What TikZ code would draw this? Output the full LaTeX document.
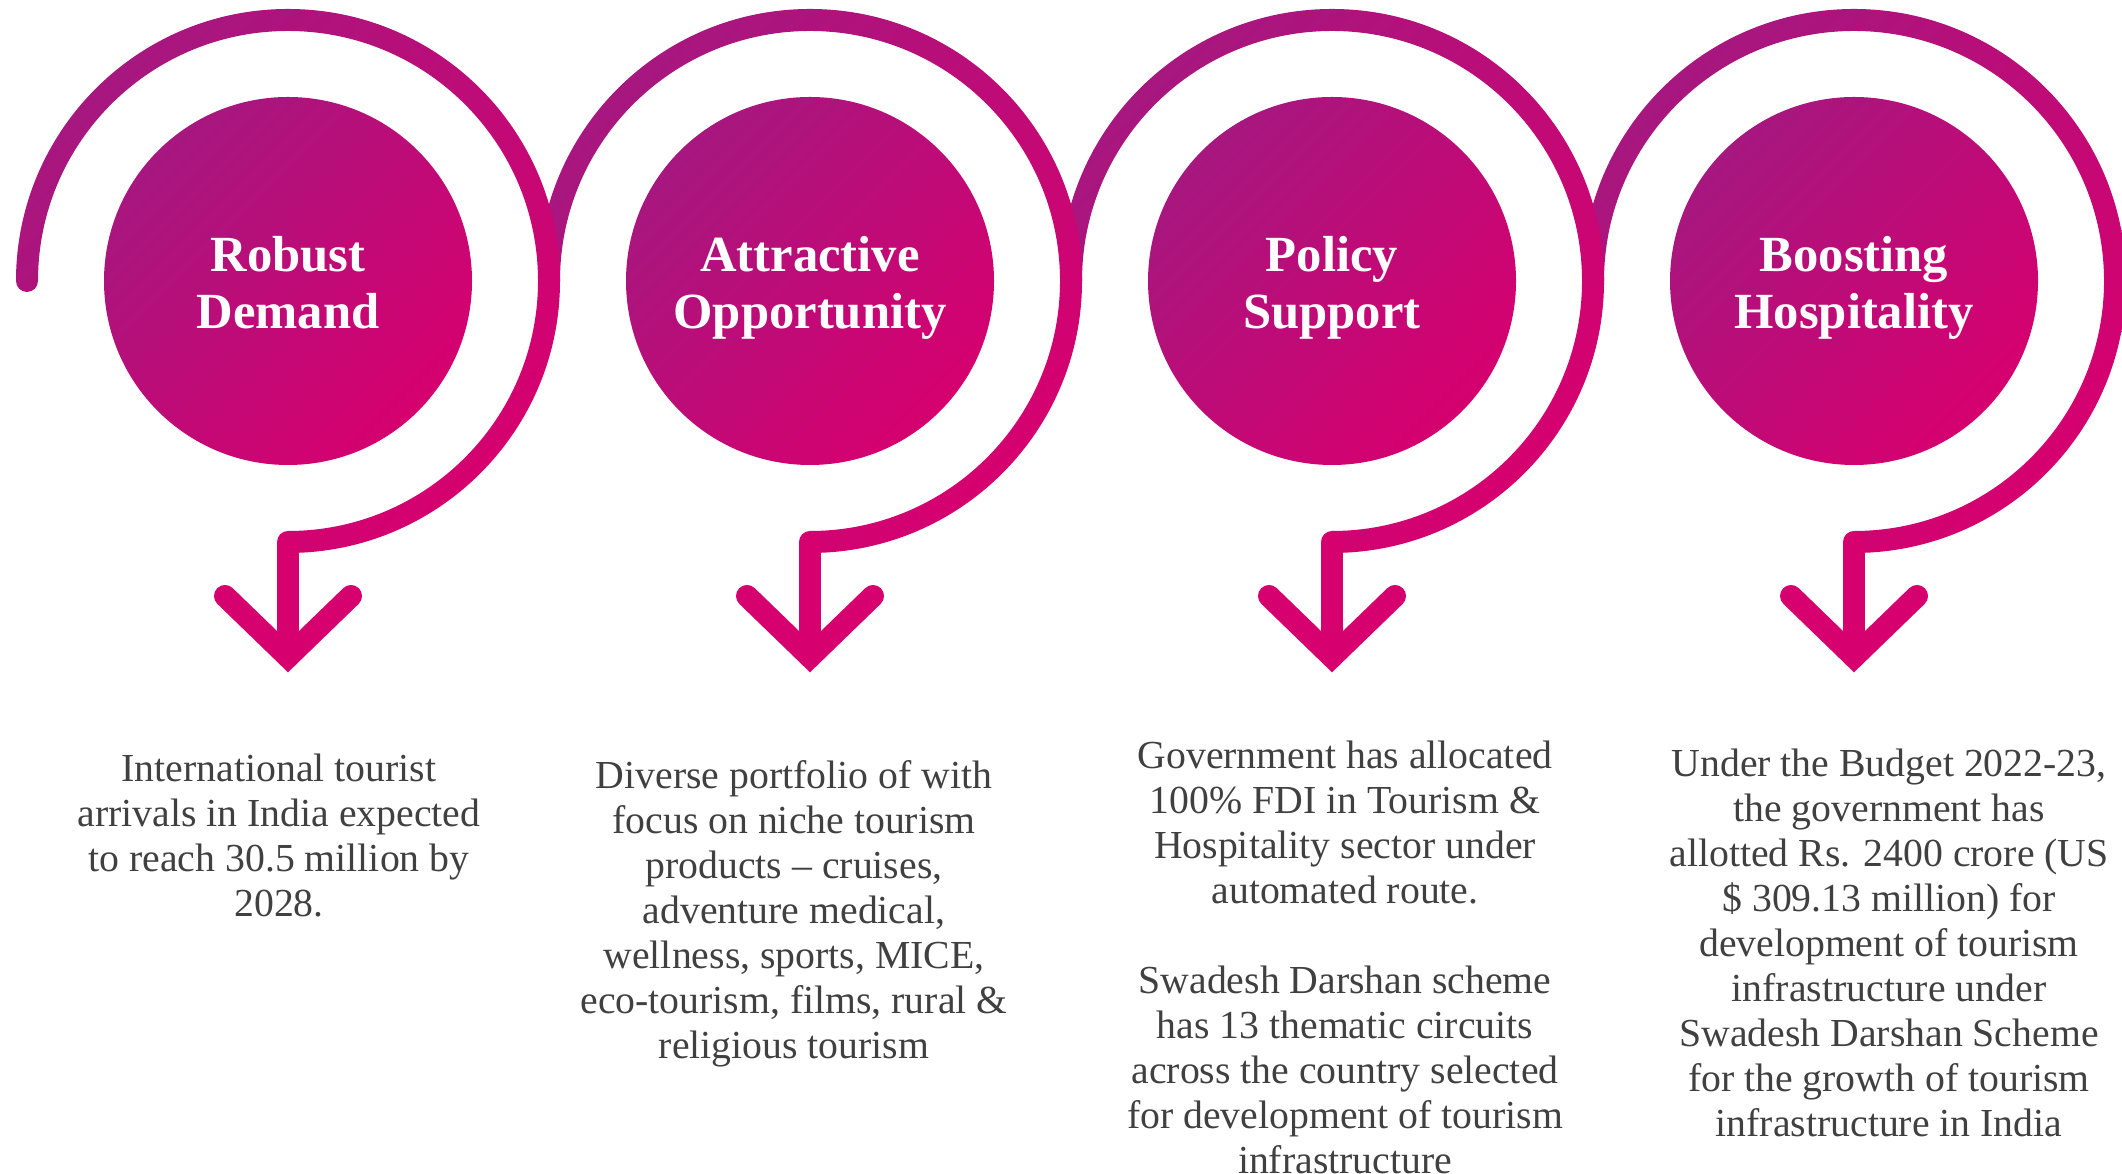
\documentclass[tikz,border=0pt]{standalone}
\usepackage{fontspec}
\setmainfont{Liberation Serif}
\usetikzlibrary{calc}
\definecolor{pkA}{HTML}{A6177F}
\definecolor{pkB}{HTML}{D6006F}
\definecolor{txt}{HTML}{404040}
\tikzset{
  band/.style={draw=pkB,line width=0.22cm,line cap=round},
  title/.style={text=white,font=\bfseries\fontsize{14.4}{16.2}\selectfont,align=center,inner sep=0},
  body/.style={text=txt,font=\fontsize{11.3}{12.8}\selectfont,align=center,inner sep=0,anchor=north},
}
\begin{document}
\begin{tikzpicture}[x=0.01cm,y=0.01cm]
\useasboundingbox (0,0) rectangle (2122,1173);
% right to left, so each ring lies over the start of the next one
\foreach \i/\name in {3/{\strut Boosting\\\strut Hospitality},2/{\strut Policy\\\strut Support},1/{\strut Attractive\\\strut Opportunity},0/{\strut Robust\\\strut Demand}}
{
    \coordinate (o\i) at (288+522*\i,892);
    \shade[top color=pkA,bottom color=pkB,shading angle=45]
        ($(o\i)+(-272,0)$) arc[start angle=180,end angle=-90,radius=272]
        -- ++(0,22) arc[start angle=-90,end angle=180,radius=250]
        arc[start angle=0,end angle=-180,radius=11] -- cycle;
    \shade[top color=pkA,bottom color=pkB,shading angle=45] (o\i) circle (184);
    \node[title] (h\i) at ($(o\i)+(0,-8)$) {\name};
    \coordinate (s\i) at ($(o\i)+(0,-261)$);
    \coordinate (p\i) at ($(o\i)+(0,-376)$);
    \draw[band] (s\i)--(p\i);
    \draw[band,line join=miter] ($(p\i)+(-63,61)$)--(p\i)--($(p\i)+(63,61)$);
}

\node[body] (t0) at (279,420) {International tourist\\arrivals in India expected\\to reach 30.5 million by\\2028.};
\node[body] (t1) at (794,413) {Diverse portfolio of with\\focus on niche tourism\\products -- cruises,\\adventure medical,\\wellness, sports, MICE,\\eco-tourism, films, rural \&\\religious tourism};
\node[body] (t2) at (1345,433) {Government has allocated\\100\% FDI in Tourism \&\\Hospitality sector under\\automated route.\\[12.8pt]Swadesh Darshan scheme\\has 13 thematic circuits\\across the country selected\\for development of tourism\\infrastructure};
\node[body] (t3) at (1889,425) {Under the Budget 2022-23,\\the government has\\allotted Rs. 2400 crore (US\\\$ 309.13 million) for\\development of tourism\\infrastructure under\\Swadesh Darshan Scheme\\for the growth of tourism\\infrastructure in India};
\end{tikzpicture}
\end{document}
